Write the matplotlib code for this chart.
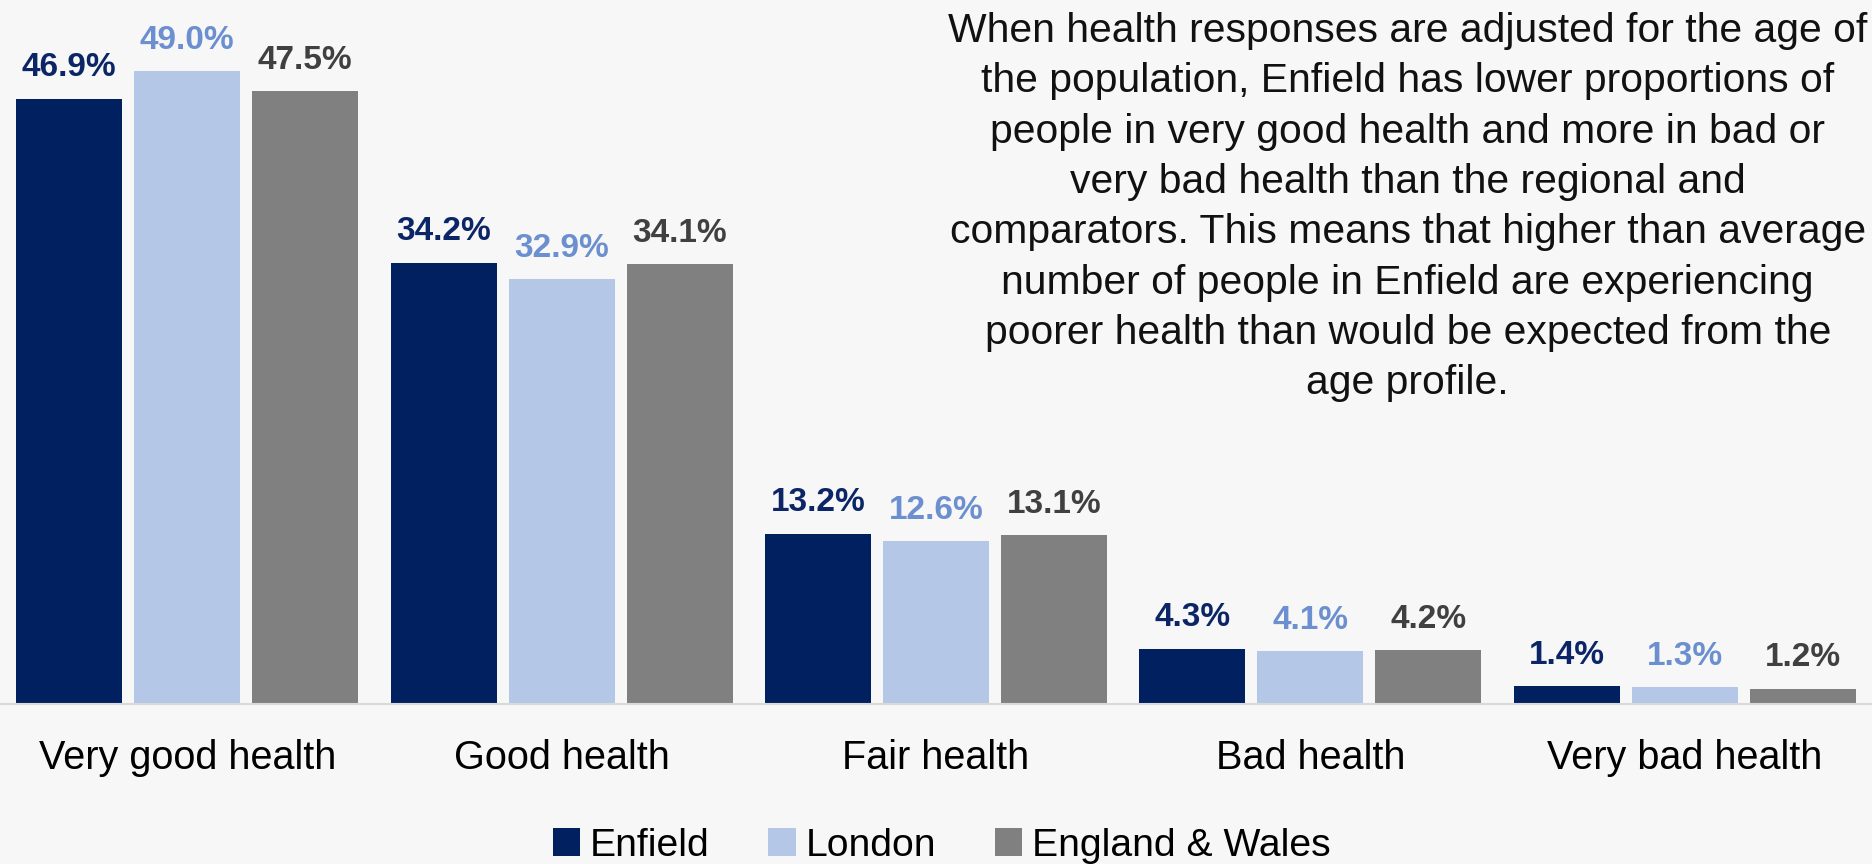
import matplotlib.pyplot as plt
import numpy as np

plt.rcParams['font.family'] = ['Liberation Sans', 'DejaVu Sans']

# General health, age-standardised (%)
categories = ["Very good health", "Good health", "Fair health", "Bad health", "Very bad health"]
areas = ["Enfield", "London", "England & Wales"]
enfield = [46.9, 34.2, 13.2, 4.3, 1.4]
london = [49.0, 32.9, 12.6, 4.1, 1.3]
eng_wales = [47.5, 34.1, 13.1, 4.2, 1.2]

bar_colors = ['#002060', '#B4C7E7', '#808080']
label_colors = ['#0B2566', '#6B8FCF', '#404040']
bg = '#F7F7F7'

note = ("When health responses are adjusted for the age of\n"
        "the population, Enfield has lower proportions of\n"
        "people in very good health and more in bad or\n"
        "very bad health than the regional and\n"
        "comparators. This means that higher than average\n"
        "number of people in Enfield are experiencing\n"
        "poorer health than would be expected from the\n"
        "age profile.")

fig = plt.figure(figsize=(18.72, 8.64), dpi=100, facecolor=bg)
ax = fig.add_axes([0.0, 0.185, 1.0, 0.807], facecolor=bg)

x = np.arange(len(categories))
width = 0.283
step = 0.315
series = [enfield, london, eng_wales]
for i, vals in enumerate(series):
    bars = ax.bar(x + (i - 1) * step, vals, width, color=bar_colors[i], label=areas[i])
    for b, v in zip(bars, vals):
        ax.annotate(f"{v:.1f}%", (b.get_x() + b.get_width() / 2, v),
                    xytext=(0, 11), textcoords='offset points',
                    ha='center', va='bottom', fontsize=24, fontweight='bold',
                    color=label_colors[i])

ax.set_xlim(-0.5, 4.5)
ax.set_ylim(0, 54)
ax.set_yticks([])
ax.set_xticks(x)
ax.set_xticklabels(categories, fontsize=28.5)
ax.tick_params(axis='x', length=0, pad=25)
for s in ['top', 'left', 'right']:
    ax.spines[s].set_visible(False)
ax.spines['bottom'].set_color('#D9D9D9')
ax.spines['bottom'].set_linewidth(1.5)

fig.text(0.752, 0.986, note, ha='center', va='top', fontsize=29.4,
         linespacing=1.41, color='#111111')

fig.legend(loc='center', bbox_to_anchor=(0.503, 0.021), ncol=3, frameon=False,
           fontsize=28.2, handlelength=0.7, handleheight=0.7, handletextpad=0.25,
           columnspacing=1.5)

fig.savefig('out.png', dpi=100, facecolor=bg)
